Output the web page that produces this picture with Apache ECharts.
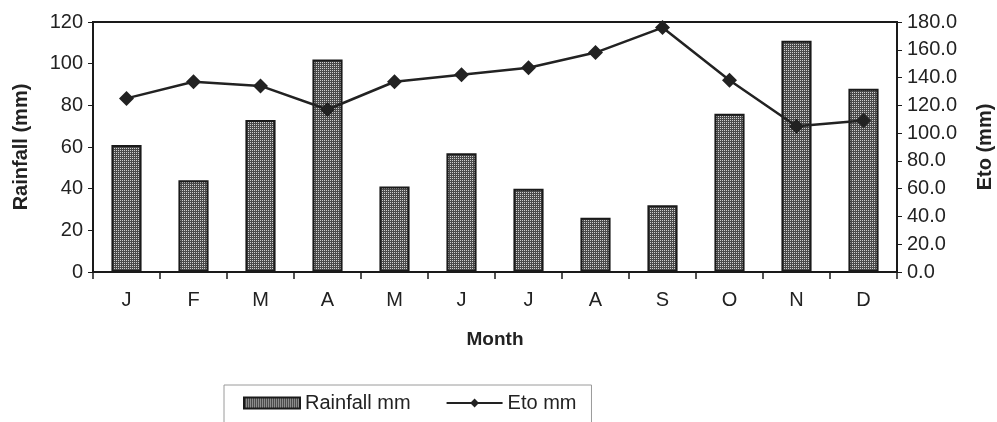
<!DOCTYPE html>
<html>
<head>
<meta charset="utf-8">
<script src="https://cdn.jsdelivr.net/npm/echarts@6/dist/echarts.min.js"></script>
<style>
  html, body { margin: 0; padding: 0; background: #fff; }
  #chart { width: 997px; height: 422px; }
</style>
</head>
<body>
<div id="chart"></div>
<script>
const months = ['J', 'F', 'M', 'A', 'M', 'J', 'J', 'A', 'S', 'O', 'N', 'D'];
const rainfall = [61, 44, 73, 102, 41, 57, 40, 26, 32, 76, 111, 88];
const eto = [125, 137, 134, 117, 137, 142, 147, 158, 176, 138, 105, 109];

(function () {
    // dotted grey fill like the printed bars
    const tile = document.createElement('canvas');
    tile.width = 2;
    tile.height = 2;
    const ctx = tile.getContext('2d');
    ctx.fillStyle = '#4a4a4a';
    ctx.fillRect(0, 0, 2, 2);
    ctx.fillStyle = '#cfcfcf';
    ctx.fillRect(0, 0, 1, 1);

    const font = 'Liberation Sans, Arial, sans-serif';
    const myChart = echarts.init(document.getElementById('chart'));

    const option = {
        animation: false,
        textStyle: { fontFamily: font },
        grid: {
            left: 93, right: 100, top: 22, bottom: 150,
            outerBoundsMode: 'none',
            containLabel: false,
            show: true, borderColor: '#1a1a1a', borderWidth: 2
        },
        legend: {
            left: 224, top: 385,
            padding: [8, 15, 20, 19],
            itemGap: 35,
            itemWidth: 56, itemHeight: 11,
            borderColor: '#9a9a9a', borderWidth: 1,
            textStyle: { fontSize: 20, color: '#222', fontFamily: font },
            data: [
                { name: 'Rainfall mm', icon: 'rect' },
                { name: 'Eto mm' }
            ]
        },
        xAxis: {
            type: 'category',
            data: months,
            name: 'Month',
            nameLocation: 'middle',
            nameGap: 58,
            nameTextStyle: { fontSize: 19, fontWeight: 'bold', color: '#222' },
            axisLine: { lineStyle: { color: '#1a1a1a', width: 2 } },
            axisTick: { show: true, length: 7, lineStyle: { color: '#1a1a1a', width: 1.5 } },
            axisLabel: { fontSize: 20, color: '#222', margin: 18 }
        },
        yAxis: [
            {
                type: 'value',
                min: 0, max: 120, interval: 20,
                name: 'Rainfall (mm)',
                nameLocation: 'middle',
                nameGap: 62,
                nameRotate: 90,
                nameTextStyle: { fontSize: 20, fontWeight: 'bold', color: '#222' },
                axisLine: { show: true, lineStyle: { color: '#1a1a1a', width: 2 } },
                axisTick: { show: true, length: 5, lineStyle: { color: '#1a1a1a' } },
                axisLabel: { fontSize: 20, color: '#222', margin: 10 },
                splitLine: { show: false }
            },
            {
                type: 'value',
                min: 0, max: 180, interval: 20,
                position: 'right',
                name: 'Eto (mm)',
                nameLocation: 'middle',
                nameGap: 78,
                nameRotate: 90,
                nameTextStyle: { fontSize: 20, fontWeight: 'bold', color: '#222' },
                axisLine: { show: true, lineStyle: { color: '#1a1a1a', width: 2 } },
                axisTick: { show: true, length: 5, lineStyle: { color: '#1a1a1a' } },
                axisLabel: {
                    fontSize: 20, color: '#222', margin: 10,
                    formatter: function (v) { return v.toFixed(1); }
                },
                splitLine: { show: false }
            }
        ],
        series: [
            {
                name: 'Rainfall mm',
                type: 'bar',
                data: rainfall,
                barWidth: '45%',
                itemStyle: {
                    color: { image: tile, repeat: 'repeat' },
                    borderColor: '#1a1a1a',
                    borderWidth: 2
                }
            },
            {
                name: 'Eto mm',
                type: 'line',
                yAxisIndex: 1,
                data: eto,
                symbol: 'diamond',
                symbolSize: 15,
                lineStyle: { color: '#222', width: 2.5 },
                itemStyle: { color: '#222' }
            }
        ]
    };

    myChart.setOption(option);
    window.addEventListener('resize', function () {
        myChart.resize();
    });
})();
</script>
</body>
</html>
